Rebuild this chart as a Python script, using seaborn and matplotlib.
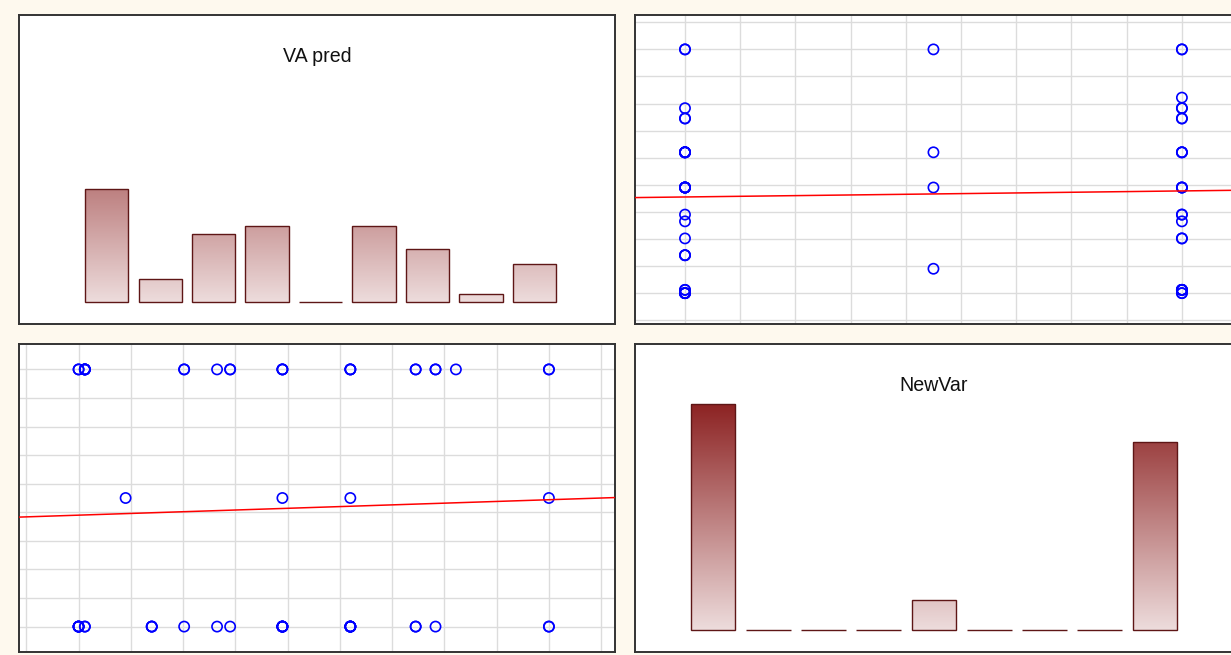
import numpy as np
import pandas as pd
import matplotlib
matplotlib.use("Agg")
import matplotlib.pyplot as plt
from matplotlib.colors import LinearSegmentedColormap
import seaborn as sns

# Distinct "VA pred" values and how many cases fall at each NewVar level
va_values = [0.10, 0.112, 0.19, 0.24, 0.302, 0.365, 0.39, 0.49, 0.62, 0.745, 0.783, 0.822, 1.00]
n_newvar_0 = [5, 2, 0, 3, 1, 1, 1, 6, 6, 2, 1, 0, 2]
n_newvar_1 = [0, 0, 1, 0, 0, 0, 0, 1, 1, 0, 0, 0, 1]
n_newvar_2 = [2, 5, 0, 0, 2, 1, 2, 3, 3, 2, 2, 1, 2]
n_newvar_missing = [0, 0, 0, 0, 1, 0, 0, 0, 0, 0, 0, 0, 0]
newvar_levels = [0, 1, 2]
variables = ["VA pred", "NewVar"]
n_bins = 9

# Case-level table built from the counts above
frames = []
for level, counts in zip(newvar_levels + [np.nan],
                         [n_newvar_0, n_newvar_1, n_newvar_2, n_newvar_missing]):
    frames.append(pd.DataFrame({"VA pred": np.repeat(va_values, counts),
                                "NewVar": level}))
df = pd.concat(frames, ignore_index=True)

# Axis ranges and grid positions for each variable
axis_lim = {"VA pred": (-0.014, 1.127), "NewVar": (-0.2, 2.2)}
axis_grid = {"VA pred": np.round(np.arange(0, 1.15, 0.1), 2),
             "NewVar": np.linspace(0, 2, 10)}
hist_xlim = {"VA pred": (-1.641, 9.515), "NewVar": (-1.406, 9.386)}
hist_ylim = (-2.95, 38.0)

sns.set_theme(style="white")
plt.rcParams["font.family"] = ["Liberation Sans", "DejaVu Sans"]

W, H = 1231, 655
fig = plt.figure(figsize=(W / 100, H / 100), dpi=100, facecolor="#FEF9EE")


def add_panel(x0, y0, x1, y1):
    ax = fig.add_axes([x0 / W, 1 - y1 / H, (x1 - x0) / W, (y1 - y0) / H])
    ax.set_facecolor("white")
    for s in ax.spines.values():
        s.set_visible(True)
        s.set_color("#333333")
        s.set_linewidth(1.4)
    return ax


ax_tl = add_panel(19, 15, 615.3, 324)
ax_tr = add_panel(635.3, 15, 1231.6, 324)
ax_bl = add_panel(19, 343.7, 615.3, 652.3)
ax_br = add_panel(635.3, 343.7, 1231.6, 652.3)


def scatter_panel(ax, xcol, ycol):
    ax.set_xlim(axis_lim[xcol])
    ax.set_ylim(axis_lim[ycol])
    ax.set_xticks(axis_grid[xcol])
    ax.set_yticks(axis_grid[ycol])
    ax.grid(True, color="#DCDCDC", lw=1.0)
    ax.set_axisbelow(True)
    sns.regplot(data=df, x=xcol, y=ycol, ax=ax, ci=None, truncate=False,
                color="#0000FF", marker="o",
                scatter_kws=dict(s=54, facecolors="none", edgecolors="#0000FF",
                                 linewidths=1.2, alpha=1, zorder=3),
                line_kws=dict(color="#FF0000", lw=1.1, zorder=4))
    ax.set_xlim(axis_lim[xcol])
    ax.set_ylim(axis_lim[ycol])
    ax.set_xlabel("")
    ax.set_ylabel("")
    ax.tick_params(length=0, labelbottom=False, labelleft=False)


bar_cmap = LinearSegmentedColormap.from_list("bar", ["#EDDCDC", "#8C2222"])
hist_counts = {v: np.histogram(df[v].dropna(), bins=n_bins)[0] for v in variables}
gradient_top = max(c.max() for c in hist_counts.values())


def hist_panel(ax, col):
    counts = hist_counts[col]
    bins = pd.DataFrame({"bin": [str(i) for i in range(n_bins)], "count": counts})
    sns.barplot(data=bins, x="bin", y="count", ax=ax, width=0.81, errorbar=None,
                color="white", edgecolor="#5E1616", linewidth=1.0)
    gradient = np.linspace(0, 1, 256).reshape(-1, 1)
    for p in list(ax.patches):
        p.set_facecolor("none")
        p.set_zorder(3)
        if p.get_height() <= 0:
            continue
        x0, w = p.get_x(), p.get_width()
        im = ax.imshow(gradient, extent=(x0, x0 + w, 0, gradient_top),
                       origin="lower", aspect="auto", cmap=bar_cmap,
                       interpolation="bilinear", zorder=2)
        im.set_clip_path(p)
    ax.set_xlim(hist_xlim[col])
    ax.set_ylim(hist_ylim)
    ax.set_xlabel("")
    ax.set_ylabel("")
    ax.set_xticks([])
    ax.set_yticks([])
    ax.text(0.5, 0.847, col, transform=ax.transAxes, ha="center",
            va="baseline", fontsize=14.1, color="#111111")


hist_panel(ax_tl, "VA pred")
scatter_panel(ax_tr, "NewVar", "VA pred")
scatter_panel(ax_bl, "VA pred", "NewVar")
hist_panel(ax_br, "NewVar")

fig.savefig("out.png", dpi=100, facecolor=fig.get_facecolor())
